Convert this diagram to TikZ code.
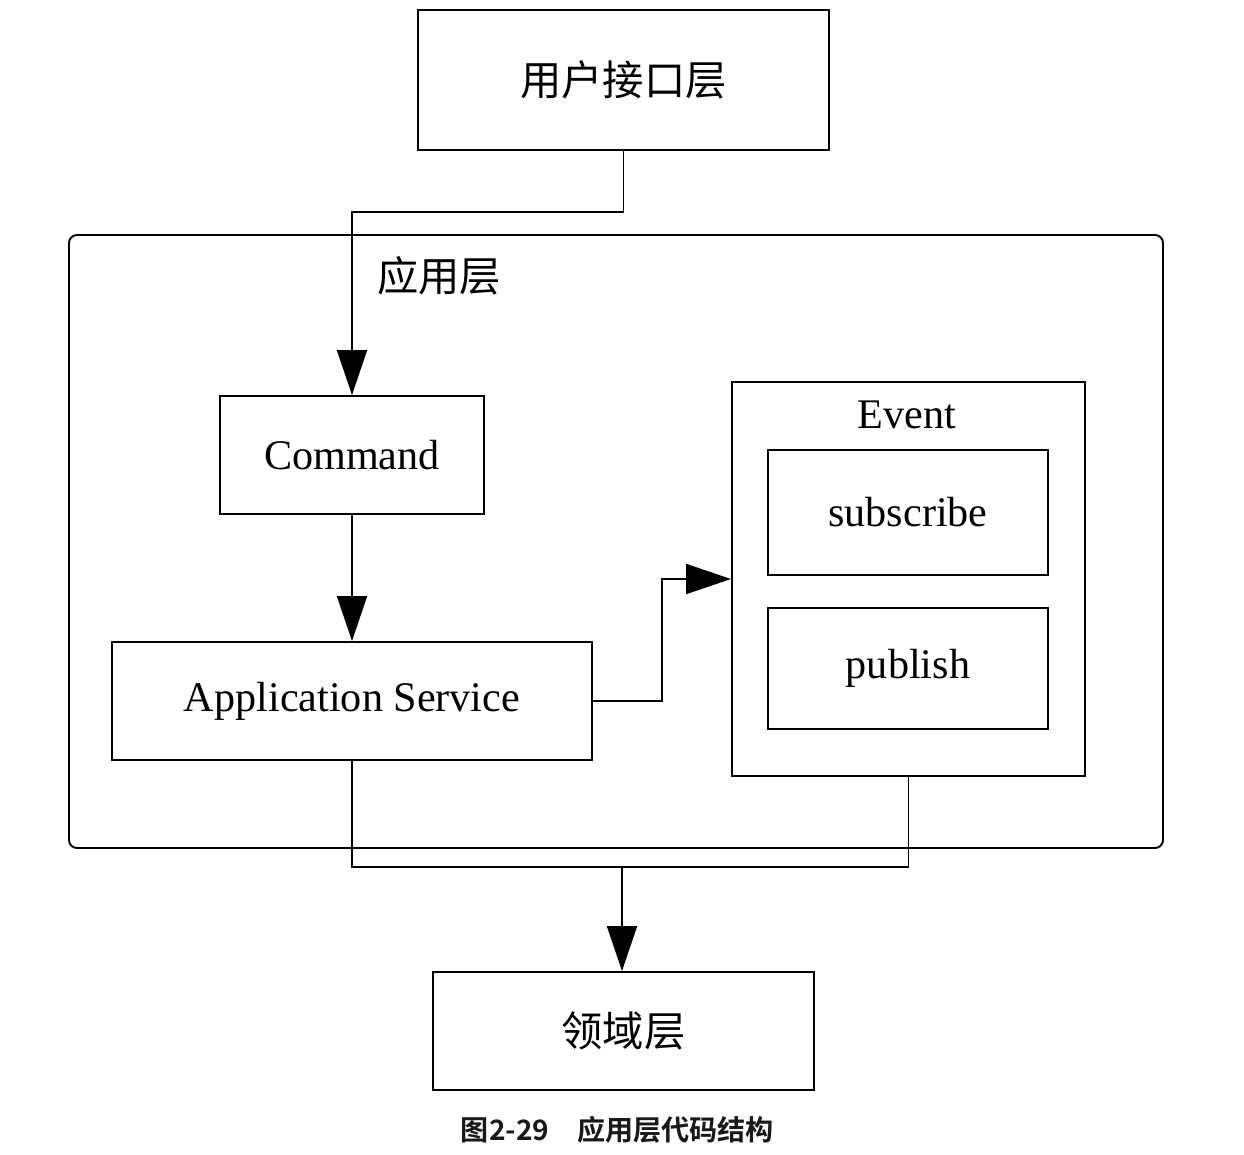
\documentclass[tikz,border=0pt]{standalone}
\usepackage{fontspec}
\setmainfont{Liberation Serif}
\newfontfamily\cjk{Noto Sans CJK SC}
\newfontfamily\cjkbold{Noto Sans CJK SC Bold}
\usetikzlibrary{arrows.meta}

\tikzset{
  layerbox/.style={draw, line width=1.1pt, inner sep=0pt, font=\fontsize{23.5}{28}\selectfont\cjk},
  partbox/.style={draw, line width=1.1pt, inner sep=0pt, font=\fontsize{24}{28}\selectfont},
  link/.style={line width=1.1pt},
  arrowlink/.style={line width=1.1pt, -{Triangle[length=0.9cm,width=0.6cm]}}
}

\begin{document}
\begin{tikzpicture}
\useasboundingbox (0,0) rectangle (24.88,-23.08);
\node[layerbox, minimum width=8.22cm, minimum height=2.8cm] (ui) at (12.47,-1.6) {用户接口层};
\node[draw, line width=1.1pt, rounded corners=0.16cm, minimum width=21.88cm, minimum height=12.26cm] (app) at (12.32,-10.83) {};
\node[anchor=west, font=\fontsize{23.5}{28}\selectfont\cjk, inner sep=0pt] (app_label) at (7.54,-5.52) {应用层};
\node[partbox, minimum width=5.28cm, minimum height=2.36cm] (cmd) at (7.04,-9.1) {Command};
\node[partbox, minimum width=9.6cm, minimum height=2.36cm] (svc) at (7.04,-14.02) {Application Service};
\node[partbox, minimum width=7.06cm, minimum height=7.88cm] (evt) at (18.17,-11.58) {};
\node[font=\fontsize{24}{28}\selectfont, inner sep=0pt] (evt_label) at (18.14,-8.3) {Event};
\node[partbox, minimum width=5.6cm, minimum height=2.5cm] (sub) at (18.16,-10.25) {subscribe};
\node[partbox, minimum width=5.6cm, minimum height=2.42cm] (pub) at (18.16,-13.37) {publish};
\node[layerbox, minimum width=7.62cm, minimum height=2.36cm] (dom) at (12.47,-20.62) {领域层};
\coordinate (join) at (12.44,-17.34);
\draw[arrowlink] (ui.south) -- ++(0,-1.22) -| (cmd.north);
\draw[arrowlink] (cmd.south) -- (svc.north);
\draw[arrowlink] (svc.east) -- ++(1.38,0) |- (evt.west);
\draw[link] (svc.south) |- (join);
\draw[link] (evt.south) |- (join);
\draw[arrowlink] (join) -- (join |- dom.north);
\node[font=\fontsize{16}{20}\selectfont\cjkbold, text=black!90, inner sep=0pt] (caption) at (12.35,-22.6) {图2-29\quad 应用层代码结构};
\end{tikzpicture}
\end{document}
